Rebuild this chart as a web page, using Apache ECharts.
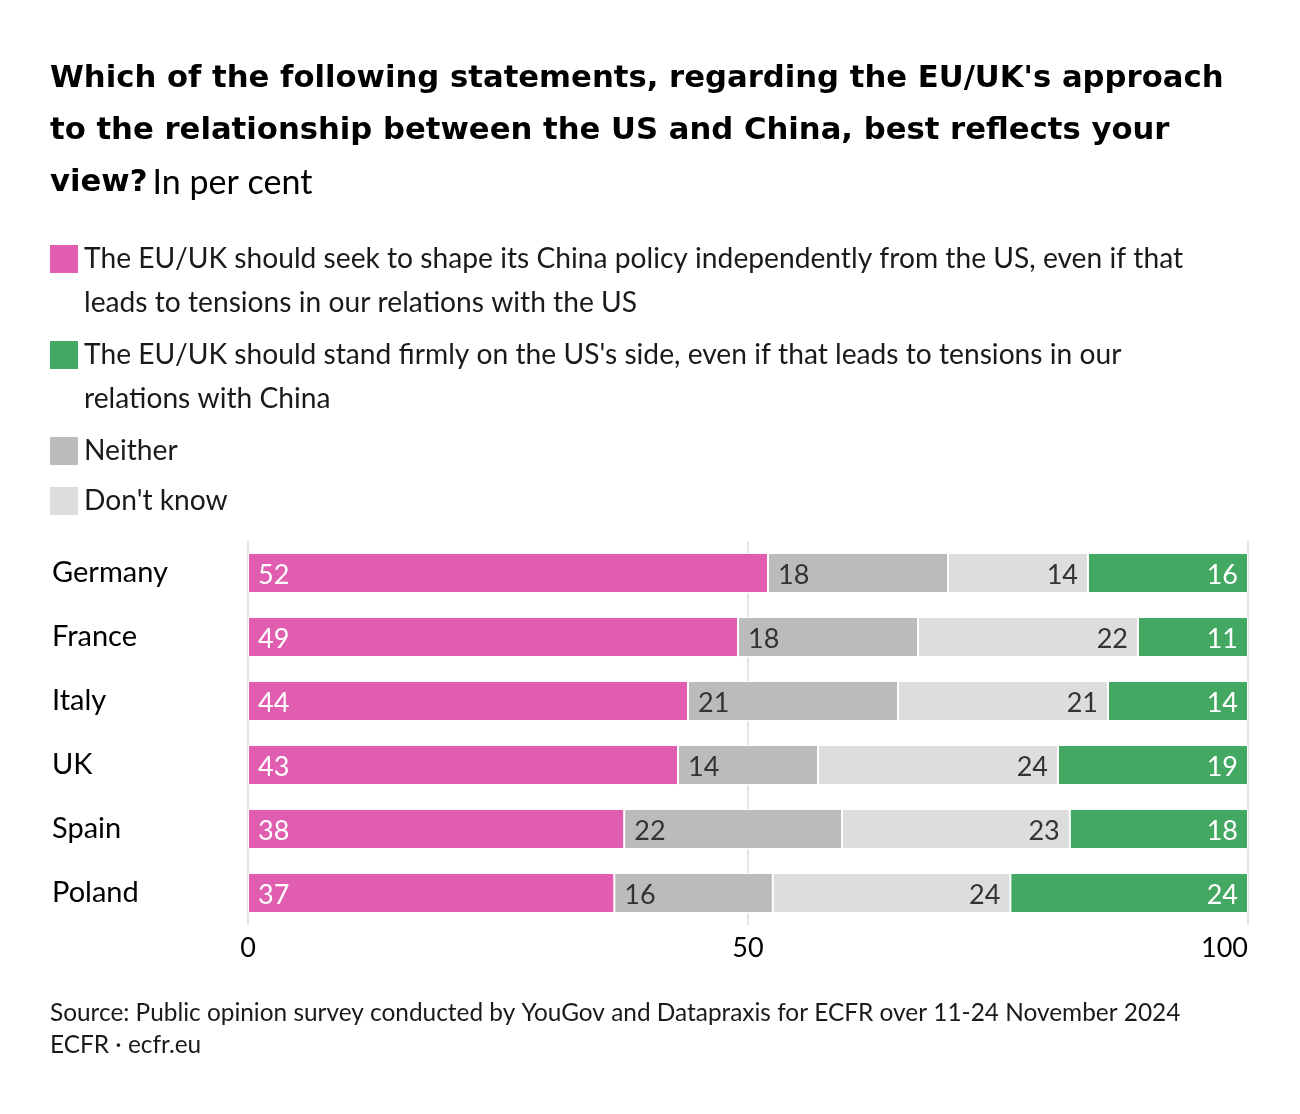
<!DOCTYPE html>
<html><head><meta charset="utf-8">
<script src="https://cdn.jsdelivr.net/npm/echarts@6/dist/echarts.min.js"></script>
<style>html,body{margin:0;padding:0;background:#fff}#c{width:1300px;height:1114px}</style>
</head><body><div id="c"></div>
<script>
const categories = ['Germany', 'France', 'Italy', 'UK', 'Spain', 'Poland'];
const independent = [52, 49, 44, 43, 38, 37];
const neither = [18, 18, 21, 14, 22, 16];
const dontKnow = [14, 22, 21, 24, 23, 24];
const usSide = [16, 11, 14, 19, 18, 24];
const axisTicks = [0, 50, 100];
const seriesNames = [
  'The EU/UK should seek to shape its China policy independently from the US, even if that\nleads to tensions in our relations with the US',
  'The EU/UK should stand firmly on the US\'s side, even if that leads to tensions in our\nrelations with China',
  'Neither',
  "Don't know"
];
const colors = { independent: '#e05db0', usSide: '#43a862', neither: '#bbbbbb', dontKnow: '#dddddd' };

const FONT = 'Lato';
const TITLE_FONT = 'DejaVu Sans';
const totals = categories.map((c, i) => independent[i] + neither[i] + dontKnow[i] + usSide[i]);
function norm(arr) { return arr.map((v, i) => ({ value: v / totals[i] * 100, raw: v })); }

function mkSeries(name, arr, color, pos, textColor) {
  return {
    name: name, type: 'bar', stack: 'all', barWidth: 40, data: norm(arr),
    itemStyle: { color: color, borderColor: '#fff', borderWidth: 1 },
    label: {
      show: true, position: pos, distance: 10, color: textColor,
      fontFamily: FONT, fontSize: 27, offset: [0, 2], formatter: p => String(p.data.raw)
    },
    emphasis: { disabled: true }
  };
}

const legendItems = [
  { name: seriesNames[0], color: colors.independent, y: 259 },
  { name: seriesNames[1], color: colors.usSide, y: 355 },
  { name: seriesNames[2], color: colors.neither, y: 451 },
  { name: seriesNames[3], color: colors.dontKnow, y: 501 }
];
const graphics = [];
legendItems.forEach(it => {
  graphics.push({ type: 'rect', left: 50, top: it.y - 14, shape: { width: 28, height: 28 }, style: { fill: it.color } });
  graphics.push({ type: 'text', left: 84, top: it.y - 22, style: { text: it.name, font: '28.2px ' + FONT, fill: '#1a1a1a', lineHeight: 44 } });
});

const chart = echarts.init(document.getElementById('c'));
chart.setOption({
  animation: false,
  backgroundColor: '#fff',
  title: [{
    left: 50, top: 53, padding: 0,
    text: '{b|Which of the following statements, regarding the EU/UK\'s approach}\n{b|to the relationship between the US and China, best reflects your}\n{b|view?} {n|In per cent}',
    textStyle: {
      rich: {
        b: { fontFamily: TITLE_FONT, fontWeight: 'bold', fontSize: 30.7, lineHeight: 52, color: '#000' },
        n: { fontFamily: FONT, fontWeight: 'normal', fontSize: 34, lineHeight: 52, color: '#000' }
      }
    }
  }, {
    left: 50, top: 997, padding: 0,
    text: 'Source: Public opinion survey conducted by YouGov and Datapraxis for ECFR over 11-24 November 2024\nECFR · ecfr.eu',
    textStyle: { fontFamily: FONT, fontWeight: 'normal', fontSize: 24.4, lineHeight: 32, color: '#1a1a1a' }
  }],
  graphic: graphics,
  grid: { left: 248, right: 52, top: 541, height: 384, containLabel: false },
  xAxis: {
    type: 'value', min: axisTicks[0], max: axisTicks[axisTicks.length - 1], interval: axisTicks[1] - axisTicks[0],
    axisLine: { show: false }, axisTick: { show: false },
    splitLine: { show: true, lineStyle: { color: '#e6e6e6', width: 2 } },
    axisLabel: { fontFamily: FONT, fontSize: 27, color: '#000', margin: 10, alignMaxLabel: 'right' }
  },
  yAxis: {
    type: 'category', data: categories, inverse: true,
    axisLine: { show: false }, axisTick: { show: false },
    axisLabel: { align: 'left', margin: 196, fontFamily: FONT, fontSize: 29, color: '#000', lineHeight: 34, padding: [4, 0, 0, 0] }
  },
  series: [
    mkSeries(seriesNames[0], independent, colors.independent, 'insideLeft', '#fff'),
    mkSeries(seriesNames[2], neither, colors.neither, 'insideLeft', '#333'),
    mkSeries(seriesNames[3], dontKnow, colors.dontKnow, 'insideRight', '#333'),
    mkSeries(seriesNames[1], usSide, colors.usSide, 'insideRight', '#fff')
  ]
});
</script></body></html>
